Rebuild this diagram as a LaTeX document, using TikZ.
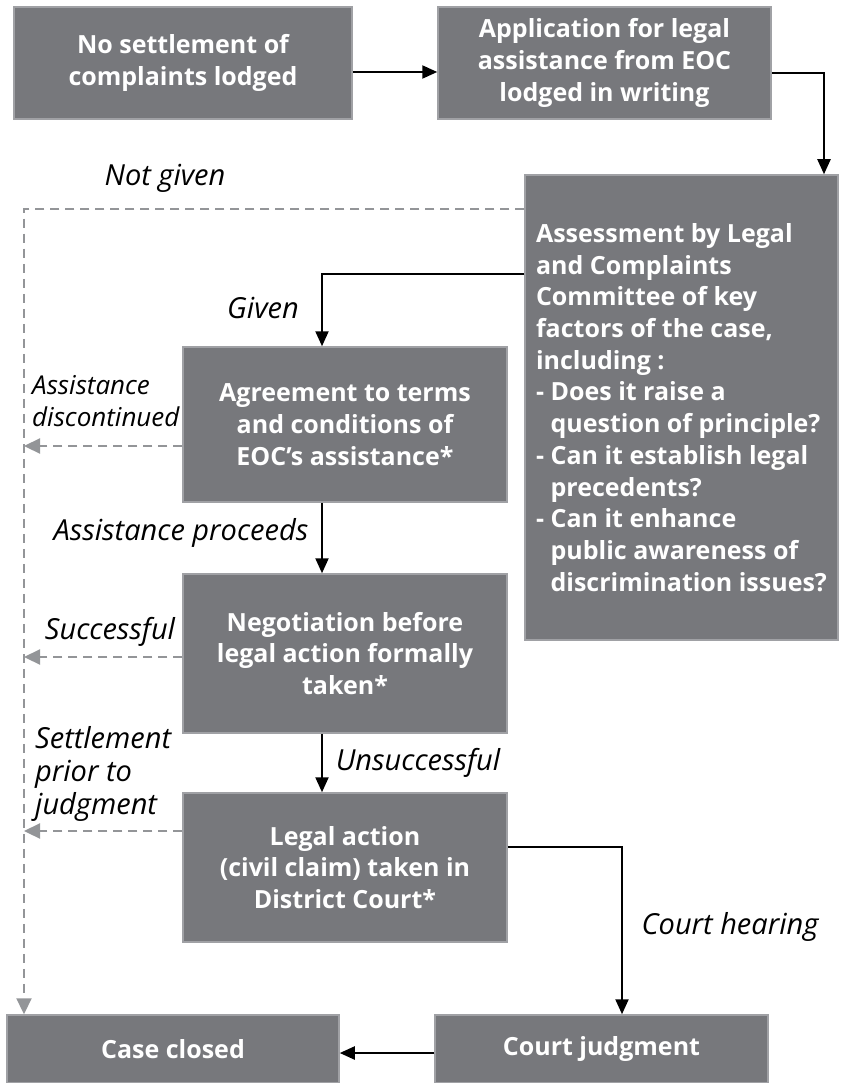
\documentclass[tikz,border=0pt]{standalone}
\usepackage{fontspec}
\setmainfont{Open Sans}
\usepackage{tikz}
\usetikzlibrary{arrows.meta}
\definecolor{boxfill}{RGB}{119,120,124}
\definecolor{boxline}{RGB}{160,161,165}
\definecolor{dashgray}{RGB}{147,149,152}
\begin{document}
\begin{tikzpicture}[x=1pt,y=-1pt]
\tikzset{>={Triangle[width=13pt,length=15pt]}}
\tikzstyle{stage}=[draw=boxline,fill=boxfill,line width=1.5pt,text=white,inner sep=0pt,align=center,font=\bfseries\fontsize{25}{31.7}\selectfont]
\tikzstyle{outcome}=[inner sep=0pt,align=left,font=\itshape\fontsize{29}{33}\selectfont]
\tikzstyle{flow}=[->,line width=2.2pt,black]
\tikzstyle{lapse}=[-{Triangle[width=15pt,length=16pt]},line width=2.2pt,dashgray,dash pattern=on 9pt off 6pt]
\useasboundingbox (0,0) rectangle (842,1083);
% stages of the procedure
\node[stage,minimum width=338pt,minimum height=112pt](nosettle) at (183,63){No settlement of\\complaints lodged};
\node[stage,minimum width=333pt,minimum height=112pt](apply) at (604.5,63){Application for legal\\assistance from EOC\\lodged in writing};
\node[stage,minimum width=313pt,minimum height=465pt,align=left](assess) at (681.5,407.5){Assessment by Legal\\and Complaints\\Committee of key\\factors of the case,\\including :\\- Does it raise a\\\hphantom{- }question of principle?\\- Can it establish legal\\\hphantom{- }precedents?\\- Can it enhance\\\hphantom{- }public awareness of\\\hphantom{- }discrimination issues?};
\node[stage,minimum width=324pt,minimum height=155pt](agree) at (345,424.5){Agreement to terms\\and conditions of\\EOC’s assistance*};
\node[stage,minimum width=324pt,minimum height=159pt](negot) at (345,653.5){Negotiation before\\legal action formally\\taken*};
\node[stage,minimum width=324pt,minimum height=149pt](legal) at (345,867.5){Legal action\\(civil claim) taken in\\District Court*};
\node[stage,minimum width=332pt,minimum height=68pt](closed) at (173,1049){Case closed};
\node[stage,minimum width=333pt,minimum height=68pt](judge) at (601.5,1049){Court judgment};
% ends of the side arrows on the dashed rail
\coordinate (off1) at (24,446);
\coordinate (off2) at (24,657);
\coordinate (off3) at (24,831);
% connectors
\draw[flow] ([yshift=-9pt]nosettle.east) -- ([yshift=-9pt]apply.west);
\draw[flow] ([yshift=-10pt]apply.east) -| ([xshift=142.5pt]assess.north);
\draw[flow] ([yshift=133.5pt]assess.west) -| ([xshift=-23pt]agree.north);
\draw[lapse] ([yshift=198.5pt]assess.west) -| ([xshift=-149pt]closed.north);
\draw[flow] ([xshift=-23pt]agree.south) -- ([xshift=-23pt]negot.north);
\draw[flow] ([xshift=-23pt]negot.south) -- ([xshift=-23pt]legal.north);
\draw[lapse] (agree.west |- off1) -- (off1);
\draw[lapse] (negot.west |- off2) -- (off2);
\draw[lapse] (legal.west |- off3) -- (off3);
\draw[flow] ([yshift=20.5pt]legal.east) -| ([xshift=20.5pt]judge.north);
\draw[flow] ([yshift=-4pt]judge.west) -- ([yshift=-4pt]closed.east);
% labels
\node[outcome](notgiven) at (165,178){Not given};
\node[outcome](given) at (263,308){Given};
\node[outcome,anchor=west,font=\itshape\fontsize{26}{32}\selectfont](discont) at (32,401){Assistance\\discontinued};
\node[outcome](proceeds) at (181,533){Assistance proceeds};
\node[outcome](success) at (110,632){Successful};
\node[outcome,anchor=west](settle) at (35,774){Settlement\\prior to\\judgment};
\node[outcome](unsucc) at (418,763){Unsuccessful};
\node[outcome](hearing) at (730,927){Court hearing};
\end{tikzpicture}
\end{document}
